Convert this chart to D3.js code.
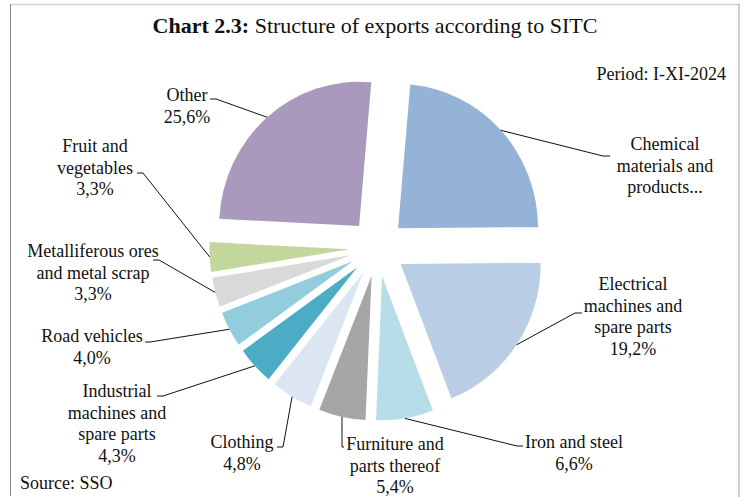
<!DOCTYPE html>
<html lang="en">
<head>
<meta charset="utf-8">
<title>Structure of exports according to SITC</title>
<script src="https://cdn.jsdelivr.net/npm/d3@7"></script>
<style>
  html, body { margin: 0; padding: 0; background: #fff; }
</style>
</head>
<body>
<script>
// data (Chemical = remainder to 100%)
const categories = [
  ["Chemical", "materials and", "products..."],
  ["Electrical", "machines and", "spare parts"],
  ["Iron and steel"],
  ["Furniture and", "parts thereof"],
  ["Clothing"],
  ["Industrial", "machines and", "spare parts"],
  ["Road vehicles"],
  ["Metalliferous ores", "and metal scrap"],
  ["Fruit and", "vegetables"],
  ["Other"]
];
const shares = [23.5, 19.2, 6.6, 5.4, 4.8, 4.3, 4.0, 3.3, 3.3, 25.6];
const shareLabels = ["", "19,2%", "6,6%", "5,4%", "4,8%", "4,3%", "4,0%", "3,3%", "3,3%", "25,6%"];
const colors = ["#95b3d7", "#b9cde5", "#b7dee8", "#a6a6a6", "#dce6f2",
                "#4bacc6", "#93cddd", "#d9d9d9", "#c3d69b", "#a99abd"];

// label placement: text centre x, first baseline y, leader elbow and end
const labelLayout = [
  {x: 665, y: 150, elbow: [603, 156], end: [610, 156]},
  {x: 633, y: 290, elbow: [575, 313], end: [582, 313]},
  {x: 574, y: 448, elbow: [517, 446], end: [523, 446]},
  {x: 395, y: 450, elbow: [342, 447], end: [344, 447]},
  {x: 242, y: 448, elbow: [283, 447], end: [277, 447]},
  {x: 117, y: 397, elbow: [163, 396], end: [157, 396]},
  {x: 92,  y: 342, elbow: [150, 342], end: [145, 342]},
  {x: 93,  y: 257, elbow: [159, 260], end: [153, 260]},
  {x: 95,  y: 152, elbow: [143, 173], end: [137, 173]},
  {x: 187, y: 101, elbow: [216, 99],  end: [210, 99]}
];

const width = 744, height = 497;
const cx = 377.5, cy = 247.7;
const radius = 140, explode = 28, yStretch = 1.03;
const lineH = 21.5;
const font = "'Liberation Serif', serif";

const svg = d3.select("body").append("svg")
    .attr("width", width)
    .attr("height", height)
    .attr("viewBox", [0, 0, width, height])
    .attr("font-family", font);

// frame
svg.append("line").attr("x1", 10.5).attr("x2", 739.5).attr("y1", 4.5).attr("y2", 4.5)
    .attr("stroke", "#d4d4d4").attr("stroke-width", 1.5);
svg.append("line").attr("x1", 10.5).attr("x2", 10.5).attr("y1", 4).attr("y2", 496)
    .attr("stroke", "#8a8a8a").attr("stroke-width", 1);
svg.append("line").attr("x1", 739).attr("x2", 739).attr("y1", 4).attr("y2", 497)
    .attr("stroke", "#a0a0a0").attr("stroke-width", 1);

// title
const title = svg.append("text")
    .attr("x", 375).attr("y", 33)
    .attr("text-anchor", "middle")
    .attr("font-family", font)
    .attr("font-size", 22)
    .attr("fill", "#111");
title.append("tspan").attr("font-weight", "bold").text("Chart 2.3:");
title.append("tspan").text(" Structure of exports according to SITC");

svg.append("text")
    .attr("x", 726).attr("y", 80)
    .attr("text-anchor", "end")
    .attr("font-family", font)
    .attr("font-size", 18)
    .attr("fill", "#111")
    .text("Period: I-XI-2024");

svg.append("text")
    .attr("x", 20).attr("y", 489)
    .attr("font-family", font)
    .attr("font-size", 18)
    .attr("fill", "#111")
    .text("Source: SSO");

const start = 5 * Math.PI / 180;
const pie = d3.pie().sort(null).value(d => d)
    .startAngle(start).endAngle(start + 2 * Math.PI);
const arcs = pie(shares);

const arc = d3.arc().innerRadius(0).outerRadius(radius);
const offsetArc = d3.arc().innerRadius(explode).outerRadius(explode);
const edgeArc = d3.arc().innerRadius(radius + explode).outerRadius(radius + explode);

const g = svg.append("g")
    .attr("transform", `translate(${cx},${cy}) scale(1,${yStretch})`);

g.selectAll("path")
  .data(arcs)
  .join("path")
    .attr("d", arc)
    .attr("fill", (d, i) => colors[i])
    .attr("transform", d => {
      const [dx, dy] = offsetArc.centroid(d);
      return `translate(${dx},${dy})`;
    });

// leader lines
const line = d3.line();
svg.append("g")
  .selectAll("path")
  .data(arcs)
  .join("path")
    .attr("fill", "none")
    .attr("stroke", "#111")
    .attr("stroke-width", 1)
    .attr("d", (d, i) => {
      const [ex, ey] = edgeArc.centroid(d);
      const L = labelLayout[i];
      return line([[cx + ex, cy + ey * yStretch], L.elbow, L.end]);
    });

// labels
const labels = svg.append("g")
  .selectAll("text")
  .data(arcs)
  .join("text")
    .attr("text-anchor", "middle")
    .attr("font-family", font)
    .attr("font-size", 18)
    .attr("fill", "#111")
    .attr("x", (d, i) => labelLayout[i].x)
    .attr("y", (d, i) => labelLayout[i].y);

labels.each(function(d, i) {
  const lines = categories[i].concat(shareLabels[i] ? [shareLabels[i]] : []);
  const t = d3.select(this);
  lines.forEach((s, j) => {
    t.append("tspan")
      .attr("x", labelLayout[i].x)
      .attr("dy", j === 0 ? 0 : lineH)
      .text(s);
  });
});
</script>
</body>
</html>
